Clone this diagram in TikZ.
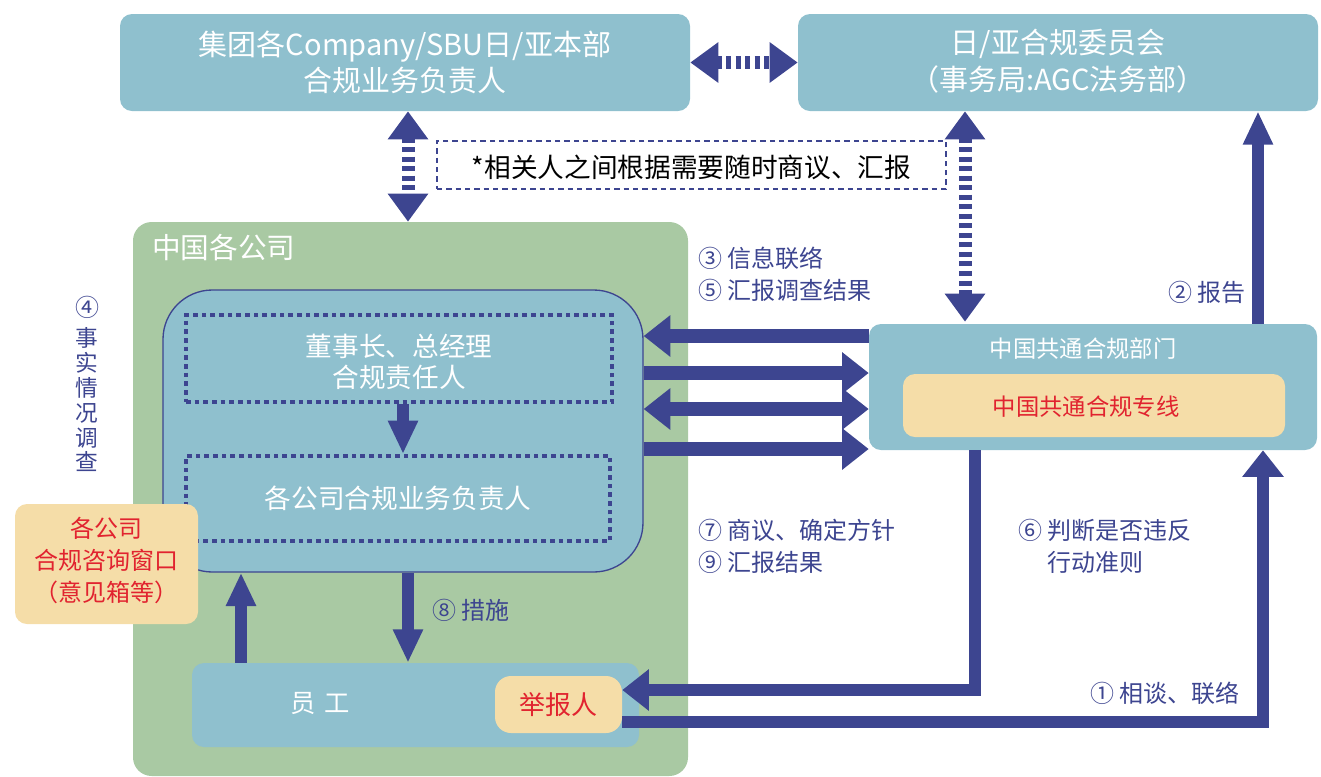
\documentclass[tikz,border=0pt]{standalone}
\usepackage{fontspec}
\setmainfont{Noto Sans CJK SC}
\usetikzlibrary{arrows.meta,fit}
\definecolor{boxblue}{HTML}{8FC0CE}
\definecolor{grn}{HTML}{A9C9A3}
\definecolor{peach}{HTML}{F5DDA8}
\definecolor{navy}{HTML}{3D4590}
\definecolor{redtxt}{HTML}{E1232F}
\tikzset{
  box/.style={fill=boxblue,rounded corners=9pt,inner sep=0pt},
  peachbox/.style={fill=peach,rounded corners=9pt,inner sep=0pt},
  dotbox/.style={draw=navy,line width=3pt,dash pattern=on 3.5pt off 3pt,inner sep=0pt},
  boxtxt/.style={text=white,align=center,inner sep=0pt},
  redtxtnode/.style={text=redtxt,align=center,inner sep=0pt},
  lbl/.style={text=navy,align=left,inner sep=0pt,font=\fontsize{18pt}{24pt}\selectfont},
  fatarr/.style={draw=navy,line width=10.5pt,-{Triangle[width=30pt,length=20pt]}},
  thinarr/.style={draw=navy,line width=8.5pt,-{Triangle[width=21pt,length=25pt]}},
  dotarr/.style={draw=navy,line width=9.75pt,dash pattern=on 3.75pt off 3.4pt,{Triangle[width=29pt,length=21pt]}-{Triangle[width=29pt,length=21pt]}}
}
\begin{document}
\begin{tikzpicture}[x=0.75pt,y=-0.75pt]
  \useasboundingbox (0,0) rectangle (1321,776);
  % top boxes
  \node[box,fit={(120,14) (690,111)}] (grp) {};
  \node[boxtxt,font=\fontsize{21.75pt}{27pt}\selectfont] (grptxt) at (grp.center) {集团各Company/SBU日/亚本部\\合规业务负责人};
  \node[box,fit={(798,14) (1318,111)}] (cmt) {};
  \node[boxtxt,font=\fontsize{21.75pt}{28pt}\selectfont] (cmttxt) at ([yshift=1pt]cmt.center) {日/亚合规委员会\\（事务局:AGC法务部）};
  \node[draw=navy,line width=2pt,dash pattern=on 4pt off 3pt,inner sep=0pt,fit={(437,141) (946,189)}] (note) {};
  \node[inner sep=0pt,font=\fontsize{20pt}{24pt}\selectfont] (notetxt) at ([yshift=-1.5pt]note.center) {*相关人之间根据需要随时商议、汇报};
  % china companies
  \node[fill=grn,rounded corners=14pt,inner sep=0pt,fit={(133,222) (688,776)}] (china) {};
  \node[text=white,anchor=west,inner sep=0pt,font=\fontsize{21.5pt}{24pt}\selectfont] (chinalbl) at (152,248) {中国各公司};
  \node[box,draw=navy,line width=1pt,rounded corners=37pt,fit={(163,290) (643,572)}] (inner) {};
  \node[dotbox,fit={(186,315) (612,402)}] (chair) {};
  \node[boxtxt,font=\fontsize{20pt}{23.5pt}\selectfont] (chairtxt) at ([yshift=-2.5pt]chair.center) {董事长、总经理\\合规责任人};
  \node[dotbox,fit={(186,456) (610,541)}] (resp) {};
  \node[boxtxt,font=\fontsize{20pt}{24pt}\selectfont] (resptxt) at (resp.center) {各公司合规业务负责人};
  \node[peachbox,fit={(15,504) (198,624)}] (window) {};
  \node[redtxtnode,font=\fontsize{18pt}{24pt}\selectfont] (windowtxt) at ([yshift=3pt]window.center) {各公司\\合规咨询窗口\\（意见箱等）};
  \node[box,fit={(192,663) (639,747)}] (emp) {};
  \node[boxtxt,font=\fontsize{19pt}{24pt}\selectfont] (emptxt) at (320,703) {员\,\,工};
  \node[peachbox,rounded corners=12pt,fit={(495,676) (622,733)}] (rep) {};
  \node[redtxtnode,font=\fontsize{19.5pt}{24pt}\selectfont] (reptxt) at (rep.center) {举报人};
  % common compliance dept
  \node[box,fit={(869,324) (1317,450)}] (cmp) {};
  \node[boxtxt,font=\fontsize{17.5pt}{24pt}\selectfont] (cmptxt) at (1083,349) {中国共通合规部门};
  \node[peachbox,fit={(903,374) (1285,437)}] (line) {};
  \node[redtxtnode,font=\fontsize{17.5pt}{24pt}\selectfont] (linetxt) at ([xshift=-6pt,yshift=-1pt]line.center) {中国共通合规专线};
  % labels
  \node[lbl] (n4) at (87,307) {④};
  \node[lbl,align=center,anchor=north,font=\fontsize{17pt}{18.7pt}\selectfont] (survey) at (87,327) {事\\实\\情\\况\\调\\查};
  \node[lbl,anchor=west] (l35) at (698,274) {③ 信息联络\\⑤ 汇报调查结果};
  \node[lbl,anchor=west] (l2) at (1168,292) {② 报告};
  \node[lbl,anchor=west] (l79) at (698,546) {⑦ 商议、确定方针\\⑨ 汇报结果};
  \node[lbl,anchor=west] (l6) at (1018,546) {⑥ 判断是否违反\\\phantom{⑥ }行动准则};
  \node[lbl,anchor=west] (l8) at (432,610) {⑧ 措施};
  \node[lbl,anchor=west] (l1) at (1090,693) {① 相谈、联络};
  % connectors
  \draw[dotarr] (grp.east) -- (cmt.west);
  \draw[dotarr] (grp.south -| 408,0) -- (china.north -| 408,0);
  \draw[dotarr] (cmt.south -| 965,0) -- ([yshift=1.5pt]cmp.north -| 965,0);
  \draw[thinarr] (cmp.north -| 1258,0) -- (cmt.south -| 1258,0);
  \draw[fatarr] (cmp.west |- 0,336) -- (inner.east |- 0,336);
  \draw[fatarr] (inner.east |- 0,373) -- (cmp.west |- 0,373);
  \draw[fatarr,{Triangle[width=30pt,length=20pt]}-{Triangle[width=30pt,length=20pt]}] (inner.east |- 0,409) -- (cmp.west |- 0,409);
  \draw[fatarr] (inner.east |- 0,449) -- (cmp.west |- 0,449);
  \draw[thinarr] (chair.south -| 403,0) -- (resp.north -| 403,0);
  \draw[thinarr] (inner.south -| 408,0) -- (emp.north -| 408,0);
  \draw[thinarr] (emp.north -| 241,0) -- (inner.south -| 241,0);
  \draw[fatarr,line width=9pt] (cmp.south -| 975,0) |- (rep.east |- 0,690);
  \draw[fatarr,line width=9pt] (rep.east |- 0,722) -| (cmp.south -| 1263,0);
\end{tikzpicture}
\end{document}
